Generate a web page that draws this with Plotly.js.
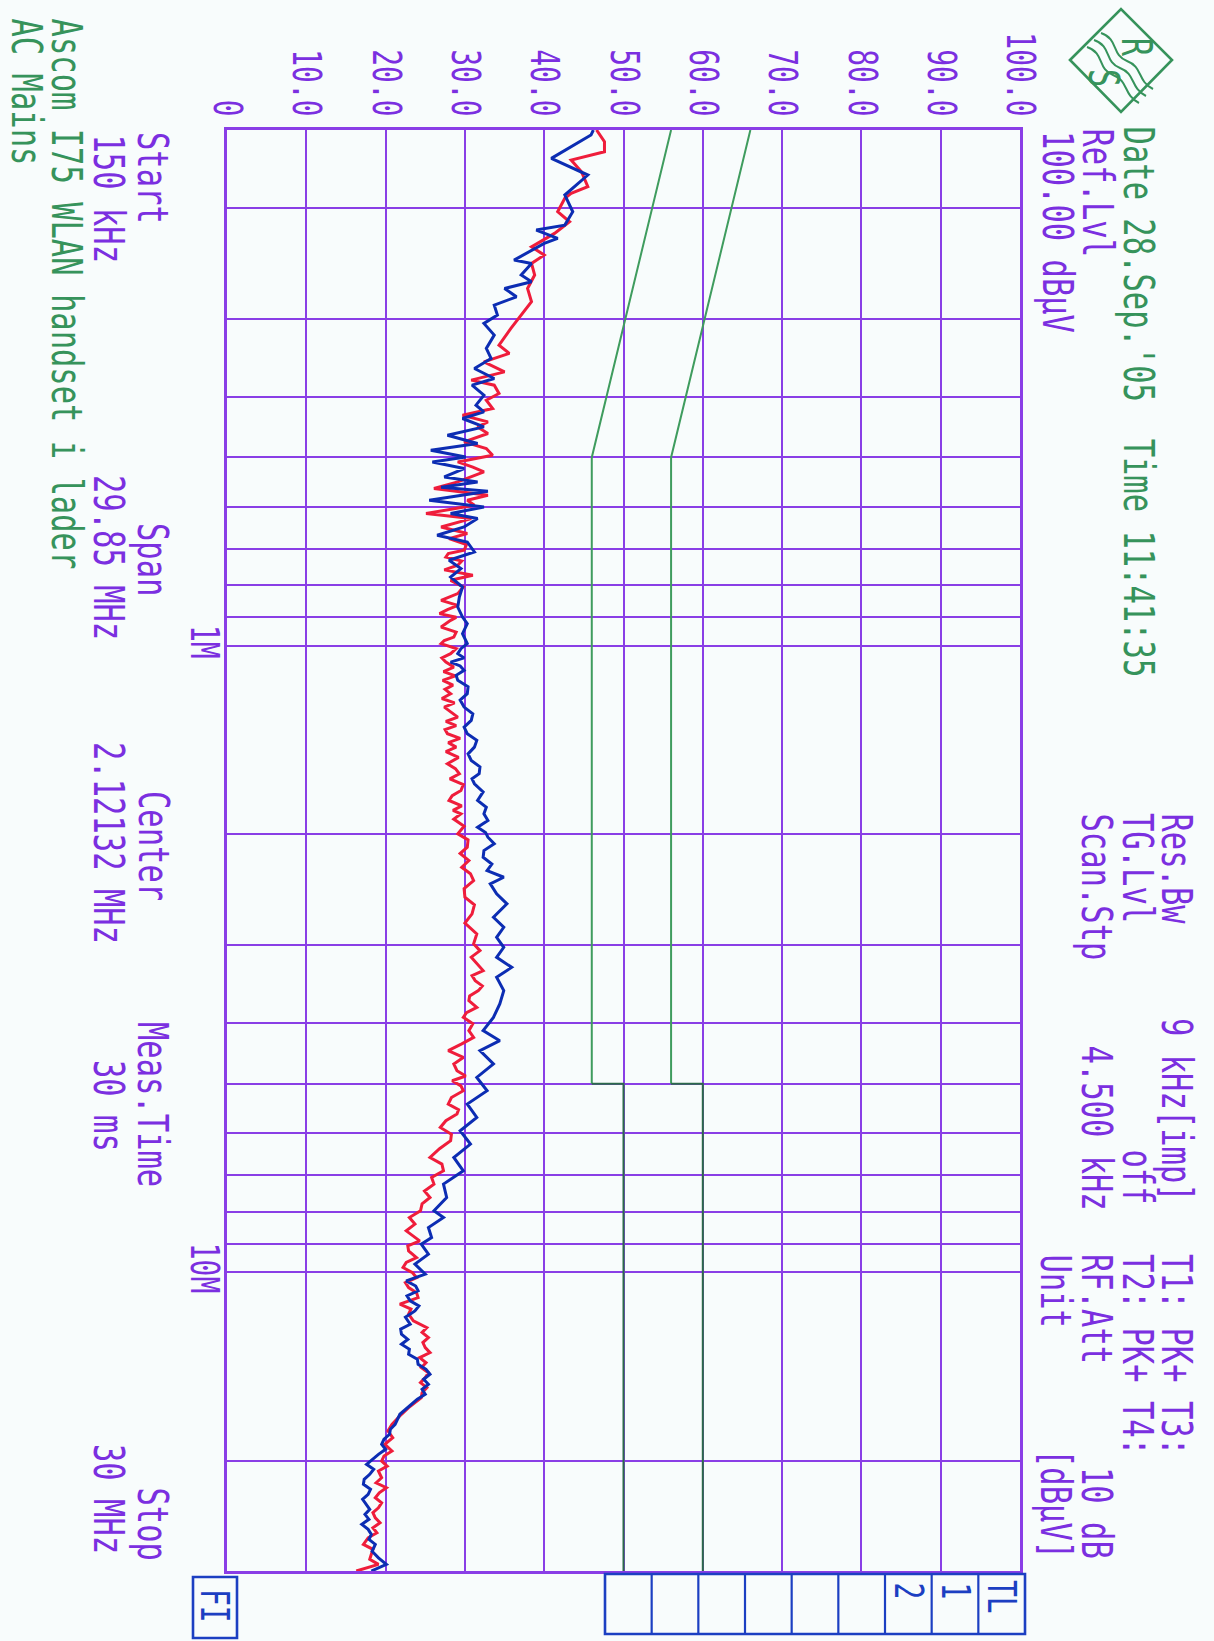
<!DOCTYPE html>
<html>
<head>
<meta charset="utf-8">
<script src="https://cdn.plot.ly/plotly-3.0.1.min.js"></script>
<style>
  html, body { margin: 0; padding: 0; background: #f8fcfc; }
  #plot { width: 1214px; height: 1641px; }
</style>
</head>
<body>
<div id="plot"></div>
<script>
// Conducted emission scan, AC mains, 150 kHz – 30 MHz (two peak traces + limit lines)

// ---- frequency axis (MHz) ----
const freqStart = 0.15;
const freqStop = 30;
const freqGrid = [0.2, 0.3, 0.4, 0.5, 0.6, 0.7, 0.8, 0.9, 1, 2, 3, 4, 5, 6, 7, 8, 9, 10, 20];
const freqGridText = ['', '', '', '', '', '', '', '', '1M', '', '', '', '', '', '', '', '', '10M', ''];

// ---- level axis (dBµV) ----
const levelTicks = [0, 10, 20, 30, 40, 50, 60, 70, 80, 90, 100];
const levelTickText = ['0', '10.0', '20.0', '30.0', '40.0', '50.0', '60.0', '70.0', '80.0', '90.0', '100.0'];

// ---- trace 1 (red): [frequency MHz, level dBµV] ----
const redTrace = [
  [0.1500,46.6],[0.1566,47.6],[0.1625,47.6],[0.1675,43.4],[0.1749,44.7],[0.1848,45.5],[0.1893,43.4],[0.1928,42.6],[0.2026,41.7],[0.2102,43.2],
  [0.2194,41.3],[0.2305,38.4],[0.2376,40.0],[0.2450,38.4],[0.2557,38.8],[0.2686,37.9],[0.2821,38.4],[0.2963,37.1],[0.3111,35.8],[0.3309,34.3],
  [0.3411,35.6],[0.3518,32.4],[0.3650,35.0],[0.3763,30.8],[0.3833,33.7],[0.3952,34.3],[0.4051,32.7],[0.4176,33.5],[0.4281,29.7],[0.4387,32.9],
  [0.4469,31.6],[0.4579,32.9],[0.4722,29.9],[0.4838,32.7],[0.4959,33.5],[0.5083,29.1],[0.5180,31.0],[0.5273,32.4],[0.5471,29.1],[0.5605,26.1],
  [0.5746,32.9],[0.5852,30.3],[0.5961,31.2],[0.6146,25.1],[0.6260,30.8],[0.6456,27.0],[0.6615,30.3],[0.6738,28.0],[0.6890,30.2],[0.7034,29.9],
  [0.7120,27.9],[0.7210,27.6],[0.7320,29.6],[0.7433,29.1],[0.7560,27.4],[0.7712,31.0],[0.7855,28.2],[0.8050,29.8],[0.8249,29.1],[0.8455,27.0],
  [0.8612,29.1],[0.8750,27.8],[0.8879,26.8],[0.9000,28.9],[0.9100,28.2],[0.9328,27.0],[0.9500,28.9],[0.9677,28.6],[0.9800,27.4],[0.9915,27.0],
  [1.0100,28.9],[1.0287,28.2],[1.0450,27.1],[1.0610,27.6],[1.0808,28.6],[1.0990,27.3],[1.1160,28.8],[1.1349,27.2],[1.1550,28.5],[1.1730,27.5],
  [1.1919,28.2],[1.2130,27.1],[1.2330,28.7],[1.2521,27.4],[1.2750,28.3],[1.2991,29.1],[1.3200,27.6],[1.3400,28.9],[1.3600,27.5],[1.3809,27.8],
  [1.4050,29.4],[1.4270,27.9],[1.4507,28.9],[1.4750,27.6],[1.5060,29.2],[1.5420,27.8],[1.5700,28.8],[1.5998,29.3],[1.6300,28.1],[1.6650,29.8],
  [1.7012,29.5],[1.7340,28.4],[1.7650,28.0],[1.8000,29.6],[1.8300,28.5],[1.8535,29.5],[1.8900,28.6],[1.9400,29.9],[1.9951,29.1],[2.0400,30.4],
  [2.0960,30.3],[2.1450,29.4],[2.2010,30.5],[2.2560,29.6],[2.3100,30.7],[2.3691,31.1],[2.4400,29.9],[2.5193,30.0],[2.5900,31.2],[2.6779,30.9],
  [2.7700,30.0],[2.8825,31.5],[2.9905,31.1],[3.0651,31.9],[3.1400,30.8],[3.2189,31.5],[3.2992,32.3],[3.3600,30.9],[3.4229,31.3],[3.4900,32.2],
  [3.5512,31.7],[3.6200,30.6],[3.6843,30.5],[3.7764,31.5],[3.8500,30.2],[3.9180,29.8],[4.0100,31.0],[4.1143,30.5],[4.2172,31.1],[4.3200,29.6],
  [4.4286,27.9],[4.5393,29.8],[4.6500,28.6],[4.7668,29.0],[4.8600,30.1],[4.9455,28.4],[5.0400,29.5],[5.1309,29.8],[5.2600,28.3],[5.3883,27.9],
  [5.5000,29.2],[5.5902,29.0],[5.7300,27.6],[5.8729,26.9],[6.0200,28.3],[6.1673,28.2],[6.3500,26.8],[6.5585,25.6],[6.7200,27.1],[6.8871,27.3],
  [7.0600,25.8],[7.2326,26.1],[7.4200,24.9],[7.5984,25.6],[7.7800,24.6],[7.9793,24.4],[8.1800,23.0],[8.3796,23.7],[8.5887,22.6],[8.9106,24.3],
  [9.0800,22.8],[9.2446,22.9],[9.4757,23.9],[9.6500,22.6],[9.8309,22.2],[10.020,23.4],[10.199,23.9],[10.390,22.5],[10.582,22.9],[10.780,23.9],
  [10.979,24.1],[11.248,21.8],[11.450,23.2],[11.670,22.9],[11.961,23.5],[12.260,25.2],[12.480,24.6],[12.719,25.4],[12.950,24.7],[13.197,25.0],
  [13.440,25.6],[13.691,24.3],[13.950,25.1],[14.204,24.5],[14.470,25.4],[14.736,25.0],[15.010,24.4],[15.289,25.2],[15.570,24.6],[15.862,24.5],
  [16.456,22.9],[16.861,22.0],[17.200,21.3],[17.493,20.8],[17.929,20.3],[18.380,20.9],[18.828,19.9],[19.299,20.8],[19.650,19.8],[20.022,19.5],
  [20.400,20.2],[20.773,19.1],[21.292,19.5],[21.700,18.8],[22.090,20.1],[22.500,19.2],[22.918,18.7],[23.350,19.5],[23.777,19.1],[24.200,18.4],
  [24.669,18.7],[25.130,19.3],[25.593,18.4],[26.060,18.9],[26.553,17.8],[27.204,17.2],[27.700,18.4],[28.224,18.2],[28.750,18.0],[29.281,19.1],
  [30.000,16.3]
];

// ---- trace 2 (blue): [frequency MHz, level dBµV] ----
const blueTrace = [
  [0.1500,46.2],[0.1528,45.9],[0.1665,40.9],[0.1770,45.5],[0.1905,42.6],[0.2026,43.6],[0.2128,42.6],[0.2167,39.0],[0.2234,41.7],[0.2276,40.0],
  [0.2420,36.2],[0.2450,38.4],[0.2557,37.1],[0.2621,38.4],[0.2686,35.0],[0.2770,36.5],[0.2856,33.7],[0.2963,34.1],[0.3055,32.4],[0.3189,33.7],
  [0.3349,32.7],[0.3474,33.3],[0.3605,31.2],[0.3740,33.7],[0.3833,30.9],[0.3977,32.4],[0.4126,31.4],[0.4229,32.4],[0.4333,29.7],[0.4469,32.4],
  [0.4607,27.8],[0.4750,31.6],[0.4869,25.7],[0.4991,30.1],[0.5083,25.9],[0.5208,29.9],[0.5372,27.4],[0.5471,31.6],[0.5579,27.0],[0.5662,32.9],
  [0.5852,25.5],[0.5998,32.4],[0.6146,28.2],[0.6260,31.6],[0.6456,29.9],[0.6656,26.5],[0.6823,30.3],[0.7078,31.2],[0.7298,28.0],[0.7524,29.5],
  [0.7761,28.2],[0.8051,29.7],[0.8353,29.3],[0.8666,29.1],[0.8991,29.7],[0.9212,30.3],[0.9557,29.7],[0.9915,30.3],[1.0100,29.5],[1.0287,29.1],
  [1.0450,29.9],[1.0610,28.2],[1.0760,29.4],[1.0939,29.9],[1.1140,28.9],[1.1349,29.1],[1.1620,30.4],[1.1919,30.3],[1.2200,29.4],[1.2521,29.9],
  [1.2830,31.0],[1.3149,30.8],[1.3480,29.9],[1.3809,30.3],[1.4150,31.5],[1.4507,31.2],[1.4870,30.4],[1.5234,30.8],[1.5600,31.9],[1.5998,31.8],
  [1.6300,30.9],[1.6597,31.2],[1.7100,32.3],[1.7650,31.6],[1.8100,32.7],[1.8535,32.4],[1.8998,32.9],[1.9473,31.6],[1.9850,32.6],[2.0203,32.9],
  [2.0699,33.7],[2.1215,32.4],[2.1745,32.3],[2.2300,33.4],[2.2835,32.8],[2.3406,34.9],[2.3981,33.2],[2.4879,34.0],[2.5812,35.3],[2.7117,33.6],
  [2.8134,34.9],[2.9189,34.0],[3.0283,34.9],[3.1417,34.0],[3.2595,35.9],[3.3817,34.0],[3.5512,34.9],[3.7293,34.4],[3.9180,33.6],[4.1143,32.3],
  [4.2686,34.4],[4.4286,31.9],[4.6507,33.6],[4.8860,31.5],[5.1309,32.8],[5.3883,30.3],[5.6608,31.5],[5.9445,29.4],[6.2427,30.7],[6.5585,28.6],
  [6.8871,29.8],[7.2326,27.3],[7.5984,27.7],[7.9793,26.1],[8.1788,27.3],[8.4854,25.4],[8.8034,25.8],[9.0195,24.5],[9.3576,25.4],[9.7083,23.7],
  [10.072,25.0],[10.324,22.6],[10.520,23.8],[10.711,24.1],[10.910,22.7],[11.112,23.1],[11.320,24.2],[11.529,23.7],[11.800,22.5],[12.107,23.1],
  [12.330,21.9],[12.561,22.0],[12.800,22.8],[13.032,22.0],[13.270,23.0],[13.520,22.9],[13.770,24.0],[14.027,24.1],[14.290,25.1],[14.553,25.6],
  [14.820,24.8],[15.098,25.4],[15.380,24.6],[15.664,25.0],[15.950,24.0],[16.251,23.3],[16.861,21.8],[17.493,21.2],[17.820,20.6],[18.148,20.5],
  [18.480,19.8],[18.828,19.5],[19.180,20.0],[19.535,19.1],[19.900,18.4],[20.267,17.6],[20.640,18.5],[21.027,18.0],[21.420,17.3],[21.814,17.2],
  [22.220,18.1],[22.632,17.8],[23.050,17.1],[23.480,17.6],[23.920,18.0],[24.361,17.4],[24.810,17.9],[25.274,17.0],[25.740,17.8],[26.222,18.2],
  [26.710,17.9],[27.204,18.7],[27.900,18.3],[28.580,19.1],[29.281,20.1],[30.000,18.2]
];

// ---- limit lines (quasi-peak and average), split at 5 MHz ----
const qpFreqLow = [0.15, 0.5, 5];
const qpLevelLow = [66, 56, 56];
const qpFreqHigh = [5, 5, 30];
const qpLevelHigh = [56, 60, 60];
const avFreqLow = [0.15, 0.5, 5];
const avLevelLow = [56, 46, 46];
const avFreqHigh = [5, 5, 30];
const avLevelHigh = [46, 50, 50];

// ---- styling ----
const MONO = 'DejaVu Sans Mono, Liberation Mono, monospace';
const PURPLE = '#7b2fe0';
const GRID = '#8a3ee6';
const GREEN = '#36935b';
const LIMIT = '#3f9c5e';
const LIMIT_DARK = '#2c6a4a';
const BOXBLUE = '#1c3fc2';
const RED = '#ef1d3b';
const BLUE = '#0c2db3';
const TEXT_SIZE = 30.5;
const TICK_SIZE = 28;
const GLYPH_STRETCH = 1.4;   // tall, narrow plotter lettering

// plot frame in page pixels
const L = 227, R = 1020, T = 130, B = 1571;
const W = 1214, H = 1641;
function px(X, Y) { return { x: (X - L) / (R - L), y: (B - Y) / (B - T) }; }

function label(text, X, Y, yanchor, color, size) {
  const p = px(X, Y);
  return {
    text: text, x: p.x, y: p.y, xref: 'paper', yref: 'paper',
    showarrow: false, textangle: 90, xanchor: 'center', yanchor: yanchor,
    font: { family: MONO, size: size || TEXT_SIZE, color: color || PURPLE }
  };
}
const sp = '\u00a0';

const annotations = [
  // header block (right edge)
  label('Date 28.Sep.\'05' + sp + sp + 'Time 11:41:35', 1139, 124, 'top', GREEN),
  label('Ref.Lvl', 1098, 126, 'top'),
  label('100.00 dBµV', 1057, 129, 'top'),
  // settings block (right edge)
  label('Res.Bw', 1177, 811, 'top'),
  label('9 kHz[imp]', 1177, 1204, 'bottom'),
  label('T1: PK+ T3:', 1177, 1252, 'top'),
  label('TG.Lvl', 1138, 811, 'top'),
  label('off', 1138, 1206, 'bottom'),
  label('T2: PK+ T4:', 1138, 1252, 'top'),
  label('Scan.Stp', 1097, 811, 'top'),
  label('4.500 kHz', 1097, 1212, 'bottom'),
  label('RF.Att', 1097, 1252, 'top'),
  label('10 dB', 1097, 1561, 'bottom'),
  label('Unit', 1056, 1252, 'top'),
  label('[dBµV]', 1056, 1561, 'bottom'),
  // sweep block (left edge)
  label('Start', 153, 130, 'top'),
  label('150 kHz', 109, 132, 'top'),
  label('Span', 153, 559, 'middle'),
  label('29.85 MHz', 109, 557, 'middle'),
  label('Center', 153, 846, 'middle'),
  label('2.12132 MHz', 109, 843, 'middle'),
  label('Meas.Time', 153, 1104, 'middle'),
  label('30 ms', 109, 1106, 'middle'),
  label('Stop', 153, 1562, 'bottom'),
  label('30 MHz', 109, 1556, 'bottom'),
  // device under test
  label('Ascom I75 WLAN handset i lader', 67, 16, 'top', GREEN),
  label('AC Mains', 27, 16, 'top', GREEN),
  // status boxes
  label('FI', 215, 1606, 'middle', BOXBLUE, 28),
  label('TL', 1002, 1578, 'top', BOXBLUE, 28),
  label('1', 955, 1580, 'top', BOXBLUE, 28),
  label('2', 908, 1580, 'top', BOXBLUE, 28),
  // logo letters
  label('R', 1136, 47, 'middle', GREEN, 30),
  label('S', 1104, 78, 'middle', GREEN, 30)
];

// ---- frame decorations: status boxes and logo ----
function rectShape(X0, Y0, X1, Y1, color, width) {
  const a = px(X0, Y0), b = px(X1, Y1);
  return { type: 'rect', xref: 'paper', yref: 'paper', x0: a.x, y0: a.y, x1: b.x, y1: b.y,
           line: { color: color, width: width }, fillcolor: 'rgba(0,0,0,0)' };
}
function lineShape(X0, Y0, X1, Y1, color, width) {
  const a = px(X0, Y0), b = px(X1, Y1);
  return { type: 'line', xref: 'paper', yref: 'paper', x0: a.x, y0: a.y, x1: b.x, y1: b.y,
           line: { color: color, width: width } };
}
function pathShape(cmds, color, width) {
  // cmds: [['M', X, Y], ['C', X1, Y1, X2, Y2, X, Y], ...] in page pixels
  const parts = cmds.map(c => {
    let s = c[0];
    for (let i = 1; i < c.length; i += 2) {
      const p = px(c[i], c[i + 1]);
      s += ' ' + p.x.toFixed(5) + ',' + p.y.toFixed(5);
    }
    return s;
  });
  return { type: 'path', xref: 'paper', yref: 'paper', path: parts.join(' '),
           line: { color: color, width: width }, fillcolor: 'rgba(0,0,0,0)' };
}

const shapes = [];
// TL box with nine cells
const tlLeft = 605, tlRight = 1025, tlTop = 1574, tlBottom = 1634;
shapes.push(rectShape(tlLeft, tlTop, tlRight, tlBottom, BOXBLUE, 2.6));
for (let i = 1; i < 9; i++) {
  const X = tlLeft + (tlRight - tlLeft) * i / 9;
  shapes.push(lineShape(X, tlTop, X, tlBottom, BOXBLUE, 2.2));
}
// FI box
shapes.push(rectShape(193, 1577, 237, 1638, BOXBLUE, 2.6));
// logo diamond
shapes.push(pathShape([['M', 1070, 60], ['L', 1121, 9], ['L', 1172, 60], ['L', 1121, 112], ['Z']], GREEN, 2.6));
// logo waves
[-7, 0, 7].forEach(d => {
  shapes.push(pathShape([
    ['M', 1094 + d, 40 - d],
    ['C', 1112 + d, 46 - d, 1104 + d, 62 - d, 1120 + d, 68 - d],
    ['C', 1136 + d, 74 - d, 1130 + d, 88 - d, 1146 + d, 96 - d]
  ], GREEN, 2));
});

// ---- traces: frequency runs down the page, level runs across ----
function curve(freq, level, color, width) {
  return { type: 'scatter', mode: 'lines', x: level, y: freq, showlegend: false,
           line: { color: color, width: width } };
}
const traces = [
  curve(qpFreqLow, qpLevelLow, LIMIT, 2),
  curve(qpFreqHigh, qpLevelHigh, LIMIT_DARK, 2),
  curve(avFreqLow, avLevelLow, LIMIT, 2),
  curve(avFreqHigh, avLevelHigh, LIMIT_DARK, 2),
  curve(redTrace.map(p => p[0]), redTrace.map(p => p[1]), RED, 3),
  curve(blueTrace.map(p => p[0]), blueTrace.map(p => p[1]), BLUE, 3)
];

const layout = {
  width: W, height: H, autosize: false,
  margin: { l: L, r: W - R, t: T, b: H - B, pad: 0 },
  paper_bgcolor: '#f8fcfc', plot_bgcolor: '#f8fcfc',
  font: { family: MONO, color: PURPLE },
  showlegend: false,
  xaxis: {
    range: [0, 100], side: 'top',
    tickmode: 'array', tickvals: levelTicks, ticktext: levelTickText,
    tickangle: 90, ticks: '', ticklabelstandoff: 1,
    tickfont: { family: MONO, size: TICK_SIZE, color: PURPLE },
    showgrid: true, gridcolor: GRID, gridwidth: 2,
    showline: true, linecolor: GRID, linewidth: 2.6, mirror: true,
    zeroline: false, fixedrange: true
  },
  yaxis: {
    type: 'log', range: [Math.log10(freqStop), Math.log10(freqStart)],
    tickmode: 'array', tickvals: freqGrid, ticktext: freqGridText,
    tickangle: 90, ticks: '', ticklabelstandoff: -4,
    tickfont: { family: MONO, size: TICK_SIZE, color: PURPLE },
    showgrid: true, gridcolor: GRID, gridwidth: 2,
    showline: true, linecolor: GRID, linewidth: 2.6, mirror: true,
    zeroline: false, fixedrange: true
  },
  annotations: annotations,
  shapes: shapes,
  hovermode: false
};

Plotly.newPlot('plot', traces, layout, { staticPlot: true, displayModeBar: false }).then(gd => {
  // stretch every glyph across its baseline, keeping each label centred where Plotly put it
  gd.querySelectorAll('.annotation-text, .xtick text, .ytick text').forEach(t => {
    const bb = t.getBBox();
    if (!bb.width) return;
    const cx = bb.x + bb.width / 2, cy = bb.y + bb.height / 2;
    const prev = t.getAttribute('transform') || '';
    t.setAttribute('transform',
      prev + ' translate(' + cx + ',' + cy + ') scale(1,' + GLYPH_STRETCH + ') translate(' + (-cx) + ',' + (-cy) + ')');
  });
});
</script>
</body>
</html>
